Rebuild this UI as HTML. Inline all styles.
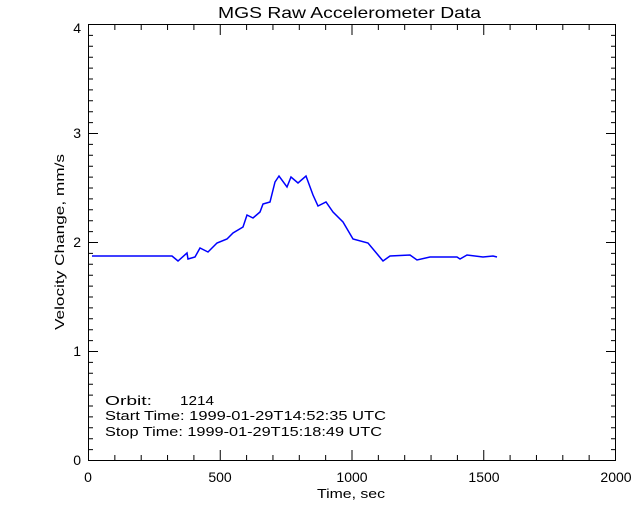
<!DOCTYPE html>
<html><head><style>body{margin:0;background:#fff}svg{display:block}</style></head><body>
<svg width="640" height="512" xmlns="http://www.w3.org/2000/svg" font-family="Liberation Sans, sans-serif" font-size="13">
<rect width="640" height="512" fill="#fff"/>
<g stroke="#000" stroke-width="1" fill="none">
<rect x="88.5" y="24.5" width="527" height="436"/>
</g>
<g id="ticks" stroke="#000" stroke-width="1"></g>
<polyline fill="none" stroke="#0000ff" stroke-width="1.5" points="92,256 172,256 178,261 187,253 188,259 195,257 200,248 208,252 217,243 227,239 233,233 243,227 247,215 253,218 260,212 263,204 270,202 275,182 279,176 287,187 291,177 298,183 306,176 313,195 318,206 326,202 333,212 343,222 353,239 368,243 378,255 383,261 390,256 410,255 417,260 430,257 457,257 460,259 467,255 483,257 493,256 497,257"/>
<g fill="#000">
<text x="218" y="18" font-size="16" textLength="263" lengthAdjust="spacingAndGlyphs">MGS Raw Accelerometer Data</text>
<text x="88" y="482" text-anchor="middle" font-size="14">0</text>
<text x="220" y="482" text-anchor="middle" font-size="14">500</text>
<text x="352" y="482" text-anchor="middle" font-size="14">1000</text>
<text x="484" y="482" text-anchor="middle" font-size="14">1500</text>
<text x="616" y="482" text-anchor="middle" font-size="14">2000</text>
<text x="317" y="498" textLength="68" lengthAdjust="spacingAndGlyphs">Time, sec</text>
<text x="81" y="465" text-anchor="end" font-size="14">0</text>
<text x="81" y="356" text-anchor="end" font-size="14">1</text>
<text x="81" y="247" text-anchor="end" font-size="14">2</text>
<text x="81" y="138" text-anchor="end" font-size="14">3</text>
<text x="81" y="33" text-anchor="end" font-size="14">4</text>
<text transform="translate(64,330) rotate(-90)" textLength="176" lengthAdjust="spacingAndGlyphs">Velocity Change, mm/s</text>
<text x="105" y="405" textLength="47" lengthAdjust="spacingAndGlyphs">Orbit:</text><text x="180" y="405" textLength="34" lengthAdjust="spacingAndGlyphs">1214</text>
<text x="105" y="420" textLength="281" lengthAdjust="spacingAndGlyphs">Start Time: 1999-01-29T14:52:35 UTC</text>
<text x="105" y="436" textLength="277" lengthAdjust="spacingAndGlyphs">Stop Time: 1999-01-29T15:18:49 UTC</text>
</g>
<script>
var g=document.getElementById('ticks'),s='';
for(var i=0;i<=20;i++){var x=88.5+i*26.35,l=(i%5==0)?10:5;s+='M'+x+' 460V'+(460-l)+'M'+x+' 25V'+(25+l);}
for(var j=0;j<=40;j++){var y=460.5-j*10.9,l=(j%10==0)?10:5;s+='M88 '+y+'H'+(88+l)+'M616 '+y+'H'+(616-l);}
var p=document.createElementNS('http://www.w3.org/2000/svg','path');p.setAttribute('d',s);g.appendChild(p);
</script>
</svg>
</body></html>
